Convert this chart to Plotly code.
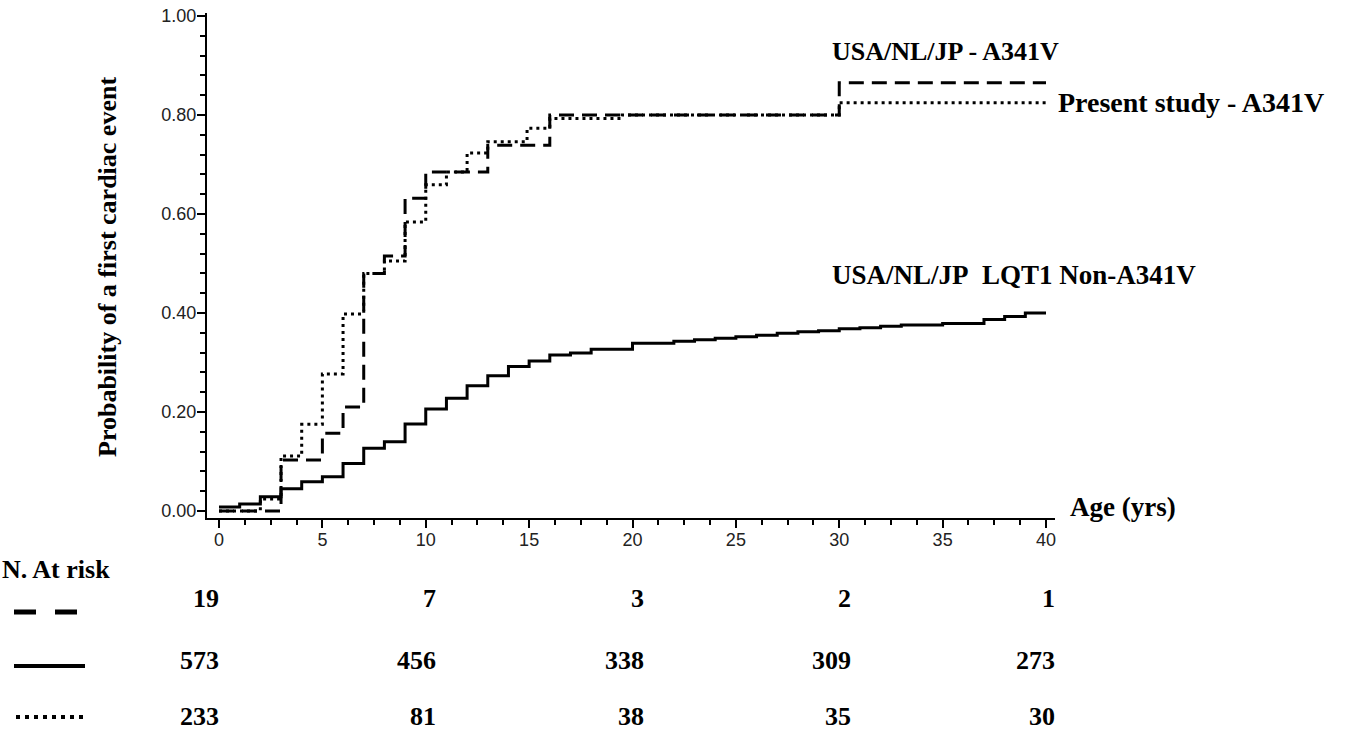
import plotly.graph_objects as go

# ---------------- data ----------------
# USA/NL/JP - A341V (dashed)
age_dash = [0, 3, 5, 6, 7, 8, 9, 10, 13, 16, 30, 40]
prob_dash = [0.0, 0.103, 0.157, 0.21, 0.48, 0.515, 0.632, 0.685, 0.739, 0.80, 0.865, 0.865]

# Present study - A341V (dotted)
age_dot = [0, 2, 3, 4, 5, 6, 7, 8, 9, 10, 11, 12, 13, 14.9, 16, 19.5, 30, 40]
prob_dot = [0.0, 0.024, 0.111, 0.175, 0.277, 0.398, 0.48, 0.505, 0.584, 0.659, 0.685, 0.723,
            0.746, 0.773, 0.793, 0.80, 0.825, 0.825]

# USA/NL/JP LQT1 Non-A341V (solid)
age_solid = [0, 1, 2, 3, 4, 5, 6, 7, 8, 9, 10, 11, 12, 13, 14, 15, 16, 17, 18, 20, 22, 23, 24,
             25, 26, 27, 28, 29, 30, 31, 32, 33, 35, 37, 38, 39, 40]
prob_solid = [0.008, 0.014, 0.029, 0.045, 0.059, 0.069, 0.096, 0.127, 0.14, 0.176, 0.206, 0.228,
              0.253, 0.273, 0.292, 0.303, 0.315, 0.319, 0.327, 0.339, 0.343, 0.346, 0.349, 0.352,
              0.355, 0.359, 0.362, 0.364, 0.368, 0.370, 0.373, 0.376, 0.379, 0.387, 0.393, 0.40, 0.40]

# numbers at risk
risk_ages = [0, 10, 20, 30, 40]
risk_dash = [19, 7, 3, 2, 1]
risk_solid = [573, 456, 338, 309, 273]
risk_dot = [233, 81, 38, 35, 30]

y_ticks = [0.0, 0.2, 0.4, 0.6, 0.8, 1.0]
x_ticks = [0, 5, 10, 15, 20, 25, 30, 35, 40]

# ---------------- layout geometry ----------------
W, H = 1347, 730
PL, PR, PT, PB = 207, 1055, 13, 518   # plot area in pixels
X0PX, XSCALE = 219, 20.675            # pixel of age 0, pixels per year


def px(xp):
    return (xp - PL) / (PR - PL)


def py(yp):
    return (PB - yp) / (PB - PT)


SERIF = "Liberation Serif, Times New Roman, serif"
SANS = "Liberation Sans, Arial, sans-serif"

fig = go.Figure()

fig.add_trace(go.Scatter(x=age_solid, y=prob_solid, mode="lines",
                         line=dict(shape="hv", color="black", width=3), showlegend=False))
fig.add_trace(go.Scatter(x=age_dash, y=prob_dash, mode="lines",
                         line=dict(shape="hv", color="black", width=3, dash="15px,8px"), showlegend=False))
fig.add_trace(go.Scatter(x=age_dot, y=prob_dot, mode="lines",
                         line=dict(shape="hv", color="black", width=3, dash="3px,4px"), showlegend=False))

annotations = []


def txt(text, x, y, xanchor="left", size=26, angle=0):
    annotations.append(dict(text=text, x=x, y=y, xref="paper", yref="paper", xanchor=xanchor,
                            yanchor="middle", showarrow=False, textangle=angle,
                            font=dict(family=SERIF, size=size, color="black")))


txt("<b>Probability of a first cardiac event</b>", px(107), py(267), xanchor="center", angle=-90)
txt("<b>USA/NL/JP - A341V</b>", px(830), py(52))
txt("<b>Present study - A341V</b>", px(1056), py(102), size=28)
txt("<b>USA/NL/JP&nbsp;&nbsp;LQT1 Non-A341V</b>", px(830), py(275), size=27)
txt("<b>Age (yrs)</b>", px(1068), py(507), size=27)
txt("<b>N. At risk</b>", px(0), py(569))

row_y = [598, 660, 716]
right_edges_px = [221, 438, 646, 853, 1057]
for vals, ry in zip([risk_dash, risk_solid, risk_dot], row_y):
    for a, v, rx in zip(risk_ages, vals, right_edges_px):
        txt("<b>%d</b>" % v, px(rx), py(ry), xanchor="right")

shapes = [
    dict(type="line", xref="paper", yref="paper", x0=px(14), x1=px(80), y0=py(612), y1=py(612),
         line=dict(color="black", width=5, dash="22px,19px")),
    dict(type="line", xref="paper", yref="paper", x0=px(14), x1=px(85), y0=py(666), y1=py(666),
         line=dict(color="black", width=4)),
    dict(type="line", xref="paper", yref="paper", x0=px(16), x1=px(84), y0=py(717), y1=py(717),
         line=dict(color="black", width=4, dash="4px,5px")),
]

fig.update_layout(
    width=W, height=H,
    margin=dict(l=PL, r=W - PR, t=PT, b=H - PB, autoexpand=False),
    paper_bgcolor="white", plot_bgcolor="white",
    annotations=annotations, shapes=shapes,
    xaxis=dict(range=[-(X0PX - PL) / XSCALE, 40 + (PR - (X0PX + 40 * XSCALE)) / XSCALE],
               tickvals=x_ticks, ticktext=[str(v) for v in x_ticks],
               ticks="outside", ticklen=8, tickwidth=2, tickcolor="black",
               minor=dict(dtick=1.25, tick0=0, ticks="outside", ticklen=5, tickwidth=1.5, tickcolor="black"),
               showline=True, linewidth=2, linecolor="black", showgrid=False, zeroline=False,
               ticklabelstandoff=-4,
               tickfont=dict(family=SANS, size=18, color="#222")),
    yaxis=dict(range=[-(PB - 511) / 495, 1 + (16 - PT) / 495],
               tickvals=y_ticks, ticktext=["%.2f" % v for v in y_ticks],
               ticks="outside", ticklen=8, tickwidth=2, tickcolor="black",
               minor=dict(dtick=0.04, tick0=0, ticks="outside", ticklen=5, tickwidth=1.5, tickcolor="black"),
               showline=True, linewidth=2, linecolor="black", showgrid=False, zeroline=False,
               ticklabelstandoff=-3,
               tickfont=dict(family=SANS, size=18, color="#222")),
)

fig.write_html("out.html", config={"displayModeBar": False},
               post_script="document.body.style.margin='0px';")
